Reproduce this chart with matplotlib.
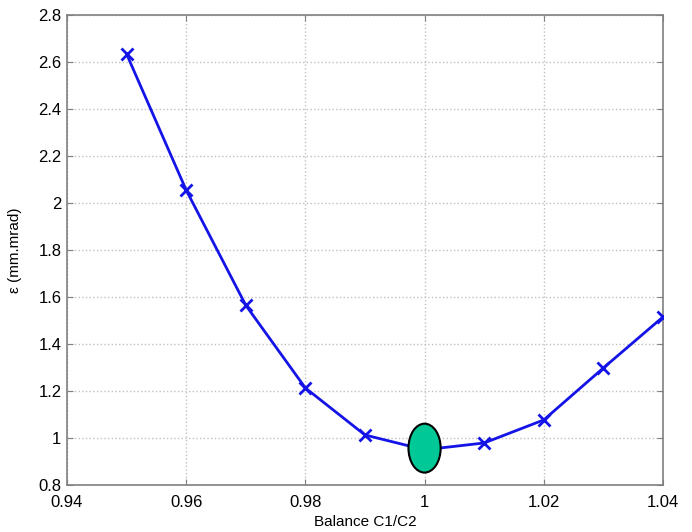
import matplotlib
matplotlib.use("Agg")
from matplotlib import pyplot as plt
from matplotlib.patches import Ellipse

balance = [0.95, 0.96, 0.97, 0.98, 0.99, 1.00, 1.01, 1.02, 1.03, 1.04]
emittance = [2.634, 2.055, 1.565, 1.213, 1.013, 0.95, 0.979, 1.077, 1.298, 1.515]
x_ticks = [0.94, 0.96, 0.98, 1.0, 1.02, 1.04]
x_tick_labels = ["0.94", "0.96", "0.98", "1", "1.02", "1.04"]
y_ticks = [0.8, 1.0, 1.2, 1.4, 1.6, 1.8, 2.0, 2.2, 2.4, 2.6, 2.8]
y_tick_labels = ["0.8", "1", "1.2", "1.4", "1.6", "1.8", "2", "2.2", "2.4", "2.6", "2.8"]

plt.rcParams["font.family"] = ["Liberation Sans", "DejaVu Sans"]

fig = plt.figure(figsize=(6.92, 5.32), dpi=100)
ax = fig.add_axes([0.0968, 0.0883, 0.8612, 0.8835])

ax.plot(balance, emittance, color="#1414e6", lw=2, marker="x", ms=8, mew=2, zorder=3)
ax.add_patch(Ellipse((1.0, 0.957), 0.0054, 0.208, facecolor="#00c896",
                     edgecolor="black", lw=1.5, zorder=4))

ax.set_xlim(0.94, 1.04)
ax.set_ylim(0.8, 2.8)
ax.set_xticks(x_ticks)
ax.set_xticklabels(x_tick_labels)
ax.set_yticks(y_ticks)
ax.set_yticklabels(y_tick_labels)
ax.tick_params(direction="in", top=True, right=True, labelsize=12, color="#808080",
               length=4, pad=4)
ax.tick_params(axis="x", pad=7)
ax.grid(True, linestyle=":", color="#c0c0c0", lw=1)
for s in ax.spines.values():
    s.set_color("#808080")
    s.set_linewidth(1.2)

ax.set_xlabel("Balance C1/C2", fontsize=11, labelpad=4)
ax.set_ylabel("ε (mm.mrad)", fontsize=11, labelpad=12)

fig.savefig("out.png", dpi=100)
